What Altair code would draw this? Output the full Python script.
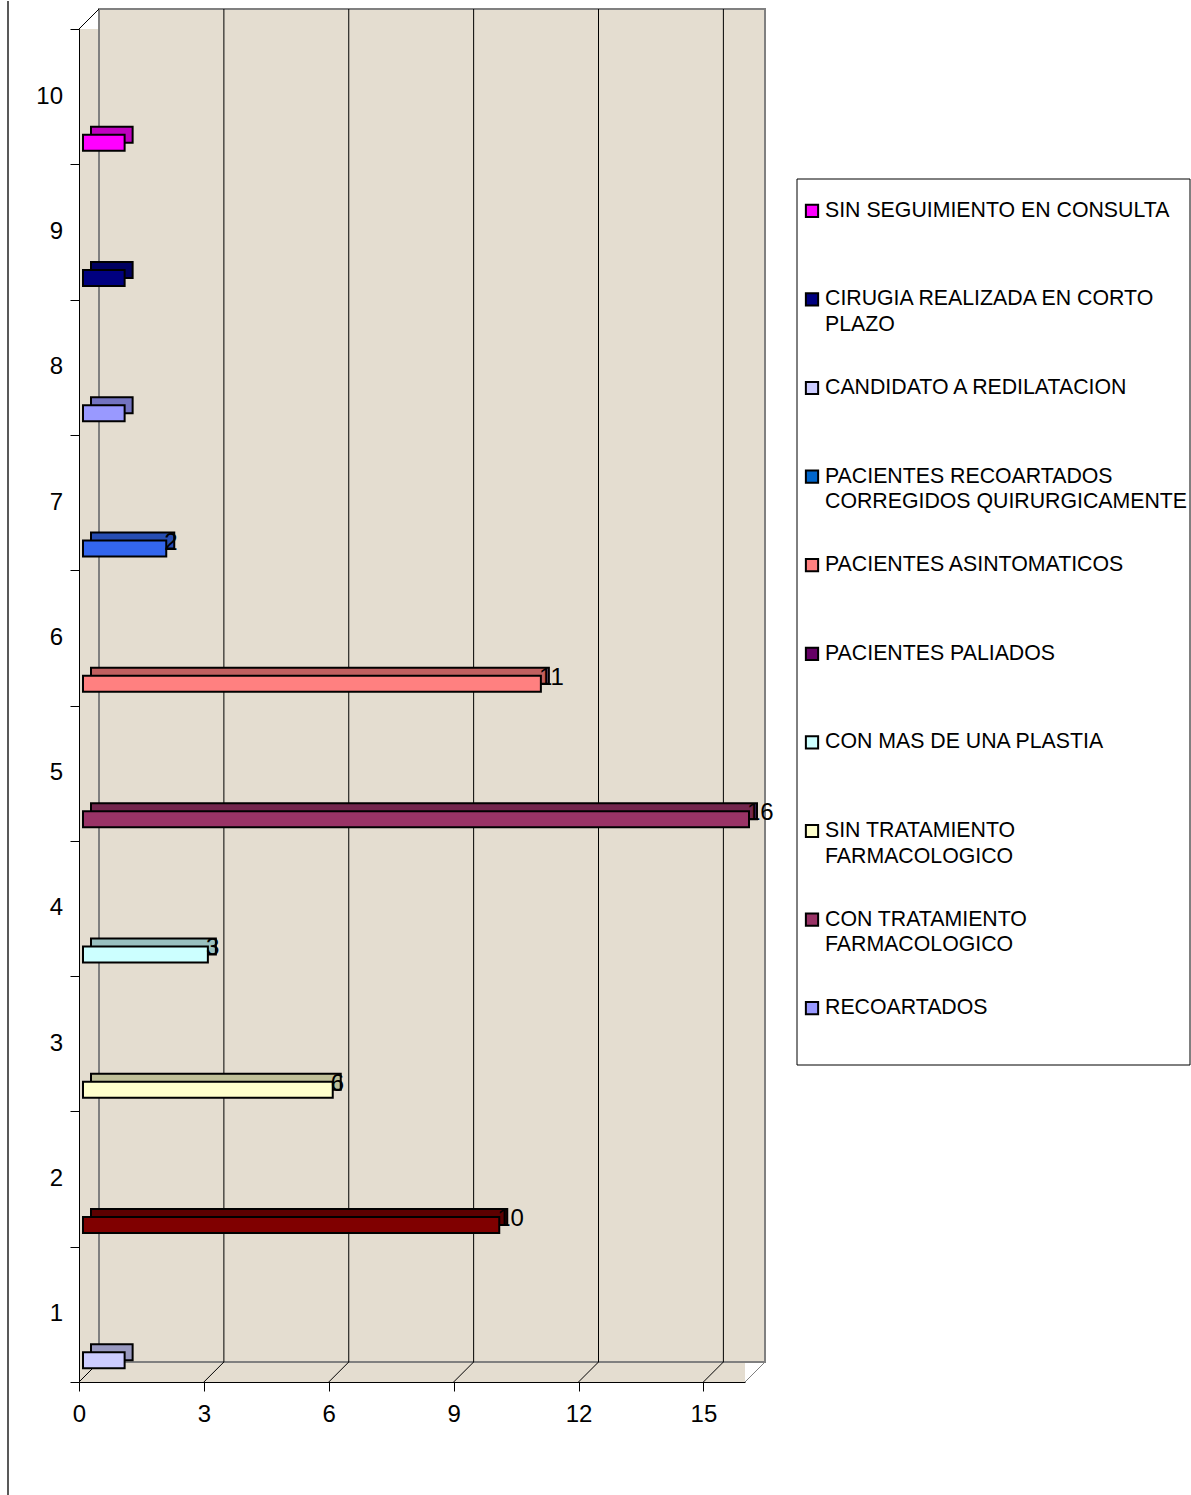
import altair as alt
import pandas as pd

# ---- data ----
categories = ["1", "2", "3", "4", "5", "6", "7", "8", "9", "10"]
values = [1, 10, 6, 3, 16, 11, 2, 1, 1, 1]
bar_colors = ["#ccccff", "#800000", "#ffffcc", "#ccffff", "#993366",
              "#ff8080", "#3366ee", "#9999ff", "#000080", "#ff00ff"]
bar_top_colors = ["#9999c0", "#5c0000", "#c0c099", "#99c0c0", "#73264d",
                  "#c06060", "#264db3", "#7373c0", "#000060", "#c000c0"]

legend_names = [
    "SIN SEGUIMIENTO EN CONSULTA",
    "CIRUGIA REALIZADA EN CORTO\nPLAZO",
    "CANDIDATO A REDILATACION",
    "PACIENTES RECOARTADOS\nCORREGIDOS QUIRURGICAMENTE",
    "PACIENTES ASINTOMATICOS",
    "PACIENTES PALIADOS",
    "CON MAS DE UNA PLASTIA",
    "SIN TRATAMIENTO\nFARMACOLOGICO",
    "CON TRATAMIENTO\nFARMACOLOGICO",
    "RECOARTADOS",
]
legend_colors = ["#ff00ff", "#000080", "#ccccff", "#0066cc", "#ff8080",
                 "#660066", "#ccffff", "#ffffcc", "#993366", "#9999ff"]

x_ticks = [0, 3, 6, 9, 12, 15]
x_max = 16
y_ticks = list(range(11))

FONT = "Liberation Sans"
BEIGE = "#e4ddd0"
W, H = 666, 1353
DEPTH = 20

bars = pd.DataFrame({
    "cat": categories,
    "value": values,
    "color": bar_colors,
    "top": bar_top_colors,
})
leg_rows = []
for i, (n, c) in enumerate(zip(legend_names, legend_colors)):
    parts = n.split("\n")
    leg_rows.append({"idx": i, "line1": parts[0],
                     "line2": parts[1] if len(parts) > 1 else "", "color": c})
legend_df = pd.DataFrame(leg_rows)

xscale = alt.Scale(domain=[0, x_max], nice=False, zero=True)
xaxis = alt.Axis(values=x_ticks, title=None, grid=False, labelFontSize=24,
                 labelFont=FONT, labelColor="#000", tickSize=9, tickColor="#000",
                 domainColor="#000", labelPadding=11, labelFlush=False,
                 format="d")
yscale_q = alt.Scale(domain=[0, 10], nice=False, zero=True)
yaxis_q = alt.Axis(values=y_ticks, title=None, grid=False, labels=False,
                   tickSize=9, tickColor="#000", domainColor="#000")

# ---- 3-D wall / floor decorations ----
wall_df = pd.DataFrame({"x0": [0], "x1": [x_max], "y0": [0], "y1": [10]})
back_wall = alt.Chart(wall_df).mark_rect(
    fill=BEIGE, stroke="#808080", strokeWidth=2,
    xOffset=DEPTH, x2Offset=DEPTH, yOffset=-DEPTH, y2Offset=-DEPTH
).encode(
    x=alt.X("x0:Q", scale=xscale, axis=xaxis),
    x2="x1:Q",
    y=alt.Y("y0:Q", scale=yscale_q, axis=yaxis_q),
    y2="y1:Q",
)

grid_df = pd.DataFrame({"k": x_ticks[1:], "y0": 0, "y1": 10})
grid = alt.Chart(grid_df).mark_rule(
    color="#000", strokeWidth=1, xOffset=DEPTH, yOffset=-DEPTH, y2Offset=-DEPTH
).encode(
    x=alt.X("k:Q", scale=xscale, axis=xaxis),
    y=alt.Y("y0:Q", scale=yscale_q, axis=yaxis_q),
    y2="y1:Q",
)

diag_df = pd.DataFrame({
    "k": x_ticks + [0, x_max],
    "yy": [0] * len(x_ticks) + [10, 0],
    "col": ["#000"] * len(x_ticks) + ["#000", "#808080"],
})
diag = alt.Chart(diag_df).mark_rule(
    strokeWidth=1, x2Offset=DEPTH, y2Offset=-DEPTH
).encode(
    x=alt.X("k:Q", scale=xscale, axis=xaxis),
    x2="k:Q",
    y=alt.Y("yy:Q", scale=yscale_q, axis=yaxis_q),
    y2="yy:Q",
    color=alt.Color("col:N", scale=None),
)

border = alt.Chart(wall_df).mark_rule(color="#222", strokeWidth=1.5).encode(
    x=alt.value(-71), y=alt.value(-28), y2=alt.value(1467)
)

deco = alt.layer(back_wall, grid, diag, border)

# ---- bars ----
yband = alt.Y("cat:N", sort=categories[::-1],
              scale=alt.Scale(paddingInner=0, paddingOuter=0), axis=None)
bx = alt.X("value:Q", scale=xscale, axis=xaxis)
BAR_H = 16
BAR_OFF = 46

top_face = alt.Chart(bars).mark_bar(
    height=BAR_H, yOffset=BAR_OFF - 8, xOffset=12, x2Offset=12,
    stroke="#000", strokeWidth=2
).encode(x=bx, y=yband, fill=alt.Color("top:N", scale=None))

front_face = alt.Chart(bars).mark_bar(
    height=BAR_H, yOffset=BAR_OFF, xOffset=4, x2Offset=4,
    stroke="#000", strokeWidth=2
).encode(x=bx, y=yband, fill=alt.Color("color:N", scale=None))

# Excel showed data labels only on the bars longer than one unit
vlabels = alt.Chart(bars).transform_filter("datum.value > 1").mark_text(
    align="left", baseline="middle", fontSize=24, font=FONT, color="#000",
    xOffset=2, yOffset=BAR_OFF - 6
).encode(x=bx, y=yband, text="value:Q")

cat_labels = alt.Chart(bars).mark_text(
    align="right", baseline="middle", fontSize=24, font=FONT, color="#000"
).encode(x=alt.value(-16), y=yband, text="cat:N")

bar_layer = alt.layer(top_face, front_face, vlabels, cat_labels)

# ---- legend ----
yleg = alt.Y("idx:O", scale=alt.Scale(range=[150, 1036], paddingInner=0,
                                      paddingOuter=0), axis=None)
box = alt.Chart(wall_df).mark_rect(fill="#ffffff", stroke="#000", strokeWidth=1).encode(
    x=alt.value(718), x2=alt.value(1111), y=alt.value(150), y2=alt.value(1036)
)
markers = alt.Chart(legend_df).mark_square(
    size=150, stroke="#000", strokeWidth=2, opacity=1, yOffset=-12.5
).encode(x=alt.value(733), y=yleg, fill=alt.Color("color:N", scale=None))
line1 = alt.Chart(legend_df).mark_text(
    align="left", baseline="middle", fontSize=21.3, font=FONT, color="#000",
    yOffset=-12.5
).encode(x=alt.value(746), y=yleg, text="line1:N")
line2 = alt.Chart(legend_df).mark_text(
    align="left", baseline="middle", fontSize=21.3, font=FONT, color="#000",
    yOffset=13
).encode(x=alt.value(746), y=yleg, text="line2:N")
legend_layer = alt.layer(box, markers, line1, line2)

chart = alt.layer(deco, bar_layer, legend_layer).resolve_scale(
    y="independent"
).properties(
    width=W, height=H,
    padding={"left": 7, "top": 0, "right": 0, "bottom": 0},
    background="#ffffff",
).configure_view(fill=BEIGE, stroke=None)

chart.save("out.html", embed_options={"renderer": "svg", "actions": False})
